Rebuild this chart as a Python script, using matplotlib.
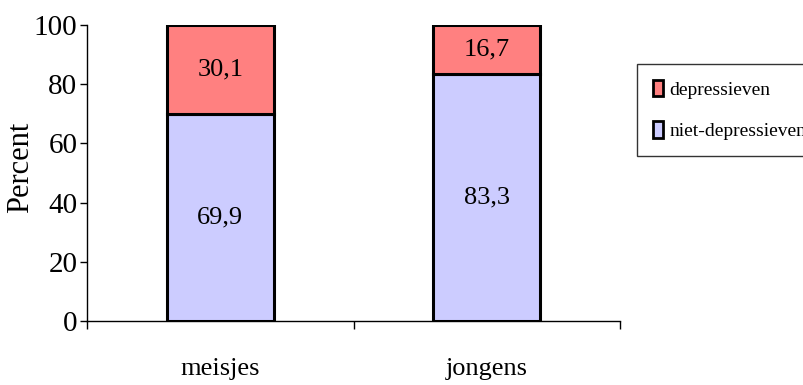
import matplotlib
matplotlib.use("Agg")
import matplotlib.pyplot as plt
from matplotlib.patches import Patch

groups = ["meisjes", "jongens"]
niet_depressief = [69.9, 83.3]
depressief = [30.1, 16.7]
series_names = ["depressieven", "niet-depressieven"]
y_ticks = [0, 20, 40, 60, 80, 100]

plt.rcParams["font.family"] = ["Liberation Serif", "DejaVu Serif"]

fig = plt.figure(figsize=(8.04, 3.85), dpi=100)
ax = fig.add_axes([87 / 804, 64 / 385, 533 / 804, 296 / 385])

x = list(range(len(groups)))
blue = "#CCCCFF"
red = "#FF8080"
bw = 0.4

ax.bar(x, niet_depressief, width=bw, color=blue, edgecolor="black", linewidth=2.2, zorder=3)
ax.bar(x, depressief, width=bw, bottom=niet_depressief, color=red, edgecolor="black",
       linewidth=2.2, zorder=3)

for i in x:
    lo = niet_depressief[i]
    hi = depressief[i]
    ax.text(i, lo / 2, f"{lo:.1f}".replace(".", ","), ha="center", va="center", fontsize=19, zorder=4)
    ax.text(i, lo + hi / 2, f"{hi:.1f}".replace(".", ","), ha="center", va="center", fontsize=19, zorder=4)

ax.set_xlim(-0.5, len(groups) - 0.5)
ax.set_ylim(0, 100)
ax.set_yticks(y_ticks)
ax.set_yticklabels([str(v) for v in y_ticks], fontsize=21)
ax.tick_params(axis="y", direction="out", length=5, width=1, pad=2)

ax.set_xticks(x)
ax.set_xticklabels(groups, fontsize=19)
ax.tick_params(axis="x", which="major", length=0, pad=27)
ax.set_xticks([-0.5, 0.5, 1.5], minor=True)
ax.tick_params(axis="x", which="minor", direction="out", length=6, width=1)

for s in ["top", "right"]:
    ax.spines[s].set_visible(False)
for s in ["left", "bottom"]:
    ax.spines[s].set_linewidth(1)
    ax.spines[s].set_color("black")

ax.set_ylabel("Percent", fontsize=22)
ax.yaxis.set_label_coords(-0.097, 0.52)

handles = [Patch(facecolor=red, edgecolor="black", linewidth=2),
           Patch(facecolor=blue, edgecolor="black", linewidth=2)]
leg = fig.legend(handles, series_names, loc="upper left",
                 bbox_to_anchor=(637 / 804, 1 - 64 / 385), fontsize=14,
                 frameon=True, fancybox=False, edgecolor="black",
                 handlelength=0.55, handleheight=0.95, handletextpad=0.3,
                 labelspacing=1.15, borderpad=0.8, borderaxespad=0)
leg.get_frame().set_linewidth(1)

fig.savefig("out.png", dpi=100)
